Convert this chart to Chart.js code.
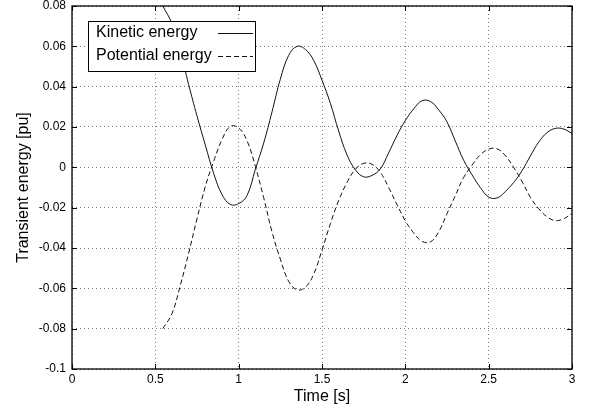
<!DOCTYPE html>
<html>
<head>
<meta charset="utf-8">
<script src="https://cdn.jsdelivr.net/npm/chart.js@4/dist/chart.umd.min.js"></script>
<style>
  html, body { margin: 0; padding: 0; background: #ffffff; }
  #wrap { width: 590px; height: 412px; position: relative; }
</style>
</head>
<body>
<div id="wrap"><canvas id="c" width="590" height="412"></canvas></div>
<script>
const time = [0.545, 0.60, 0.65, 0.70, 0.75, 0.80, 0.85, 0.90, 0.95, 1.00,
  1.05, 1.10, 1.15, 1.20, 1.25, 1.30, 1.35, 1.40, 1.45, 1.50,
  1.55, 1.60, 1.65, 1.70, 1.75, 1.80, 1.85, 1.90, 1.95, 2.00,
  2.05, 2.10, 2.15, 2.20, 2.25, 2.30, 2.35, 2.40, 2.45, 2.50,
  2.55, 2.60, 2.65, 2.70, 2.75, 2.80, 2.85, 2.90, 2.95, 3.00];

const kinetic = [0.0800, 0.0712, 0.0578, 0.0410, 0.0255, 0.0110, -0.0030, -0.0135, -0.0184, -0.0180,
  -0.0140, -0.0010, 0.0120, 0.0275, 0.0437, 0.0555, 0.0600, 0.0585, 0.0530, 0.0432,
  0.0318, 0.0180, 0.0062, -0.0012, -0.0047, -0.0040, -0.0008, 0.0072, 0.0158, 0.0232,
  0.0290, 0.0330, 0.0327, 0.0285, 0.0225, 0.0130, 0.0035, -0.0037, -0.0100, -0.0147,
  -0.0152, -0.0120, -0.0075, -0.0017, 0.0056, 0.0125, 0.0172, 0.0193, 0.0190, 0.0168];

const potential = [-0.0800, -0.0725, -0.0585, -0.0425, -0.0255, -0.0095, 0.0030, 0.0138, 0.0203, 0.0195,
  0.0132, 0.0005, -0.0150, -0.0320, -0.0455, -0.0565, -0.0607, -0.0595, -0.0530, -0.0410,
  -0.0280, -0.0165, -0.0075, -0.0010, 0.0020, 0.0015, -0.0025, -0.0100, -0.0185, -0.0265,
  -0.0325, -0.0367, -0.0370, -0.0320, -0.0230, -0.0140, -0.0050, 0.0010, 0.0062, 0.0090,
  0.0092, 0.0058, 0.0000, -0.0070, -0.0148, -0.0205, -0.0245, -0.0264, -0.0255, -0.0228];

const xTicks = [0, 0.5, 1, 1.5, 2, 2.5, 3];
const yTicks = [-0.1, -0.08, -0.06, -0.04, -0.02, 0, 0.02, 0.04, 0.06, 0.08];
const seriesNames = ['Kinetic energy', 'Potential energy'];
const xTitle = 'Time [s]';
const yTitle = 'Transient energy [pu]';

const FONT = '"Liberation Sans", Arial, sans-serif';

const framePlugin = {
  id: 'frame',
  afterDatasetsDraw(chart) {
    const ctx = chart.ctx;
    const a = chart.chartArea;
    const xs = chart.scales.x, ys = chart.scales.y;
    ctx.save();
    ctx.strokeStyle = '#000';
    ctx.lineWidth = 1;
    ctx.setLineDash([]);
    ctx.beginPath();
    xTicks.forEach(v => {
      const px = Math.round(xs.getPixelForValue(v)) + 0.5;
      ctx.moveTo(px, a.bottom); ctx.lineTo(px, a.bottom - 5);
      ctx.moveTo(px, a.top); ctx.lineTo(px, a.top + 5);
    });
    yTicks.forEach(v => {
      const py = Math.round(ys.getPixelForValue(v)) + 0.5;
      ctx.moveTo(a.left, py); ctx.lineTo(a.left + 5, py);
      ctx.moveTo(a.right, py); ctx.lineTo(a.right - 5, py);
    });
    ctx.stroke();
    ctx.lineWidth = 1.3;
    ctx.strokeRect(a.left, a.top, a.right - a.left, a.bottom - a.top);
    // legend box
    const bx = a.left + 16, by = a.top + 15, bw = 167, bh = 50;
    ctx.fillStyle = '#fff';
    ctx.fillRect(bx, by, bw, bh);
    ctx.lineWidth = 1;
    ctx.strokeRect(bx + 0.5, by + 0.5, bw, bh);
    ctx.fillStyle = '#000';
    ctx.font = '16px ' + FONT;
    ctx.textBaseline = 'middle';
    ctx.textAlign = 'left';
    chart.data.datasets.forEach((ds, i) => {
      const ty = by + 12 + i * 23;
      ctx.fillText(ds.label, bx + 8, ty);
      ctx.beginPath();
      ctx.setLineDash(ds.borderDash || []);
      ctx.strokeStyle = ds.borderColor;
      ctx.lineWidth = ds.borderWidth;
      ctx.moveTo(bx + bw - 37, ty + 0.5);
      ctx.lineTo(bx + bw - 2, ty + 0.5);
      ctx.stroke();
    });
    ctx.restore();
  }
};

new Chart(document.getElementById('c'), {
  type: 'line',
  data: {
    datasets: [
      {
        label: seriesNames[0],
        data: time.map((t, i) => ({ x: t, y: kinetic[i] })),
        borderColor: '#111',
        borderWidth: 1,
        pointRadius: 0,
        fill: false,
        tension: 0.4
      },
      {
        label: seriesNames[1],
        data: time.map((t, i) => ({ x: t, y: potential[i] })),
        borderColor: '#111',
        borderWidth: 1,
        borderDash: [5, 3],
        pointRadius: 0,
        fill: false,
        tension: 0.4
      }
    ]
  },
  options: {
    responsive: false,
    animation: false,
    devicePixelRatio: 1,
    layout: { padding: { top: 0, right: 18, left: 0, bottom: 0 } },
    plugins: { legend: { display: false }, tooltip: { enabled: false } },
    scales: {
      x: {
        type: 'linear',
        min: 0, max: 3,
        afterBuildTicks: s => { s.ticks = xTicks.map(v => ({ value: v })); },
        afterFit: s => { s.height = 43; },
        ticks: {
          color: '#000',
          font: { family: FONT, size: 12 },
          padding: 3,
          maxRotation: 0,
          callback: v => String(v)
        },
        grid: { color: '#777', lineWidth: 1, drawTicks: false },
        border: { display: false, dash: [1, 3] },
        title: {
          display: true, text: xTitle, color: '#000',
          font: { family: FONT, size: 16 }, padding: { top: 0, bottom: 6 }
        }
      },
      y: {
        type: 'linear',
        min: -0.1, max: 0.08,
        afterBuildTicks: s => { s.ticks = yTicks.map(v => ({ value: v })); },
        afterFit: s => { s.width = 72; s.paddingTop = 6; s.paddingBottom = 0; },
        ticks: {
          color: '#000',
          font: { family: FONT, size: 12 },
          padding: 6,
          callback: v => String(Number(v.toFixed(2)))
        },
        grid: { color: '#777', lineWidth: 1, drawTicks: false },
        border: { display: false, dash: [1, 3] },
        title: {
          display: true, text: yTitle, color: '#000',
          font: { family: FONT, size: 16 }, padding: { top: 14, bottom: 4 }
        }
      }
    }
  },
  plugins: [framePlugin]
});
</script>
</body>
</html>
